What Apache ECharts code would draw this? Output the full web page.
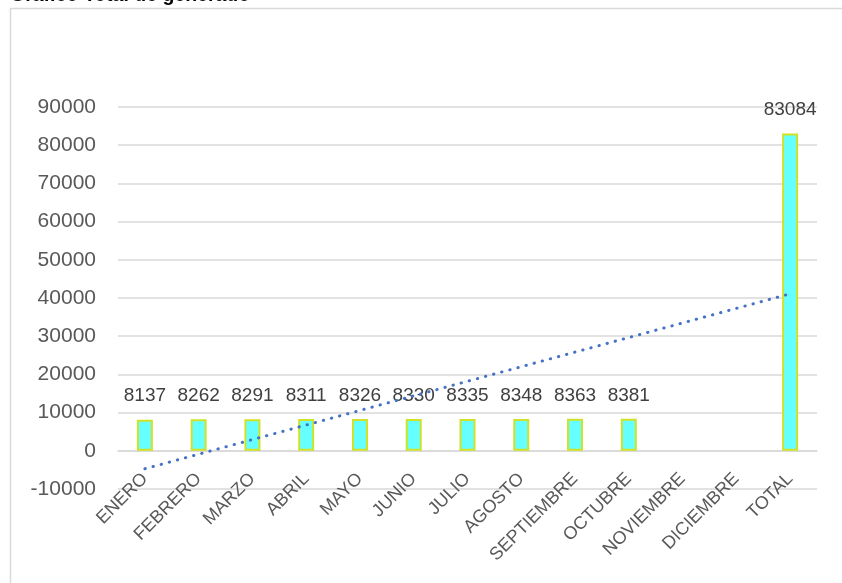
<!DOCTYPE html>
<html>
<head>
<meta charset="utf-8">
<title>Gráfico Total de generado</title>
<script src="https://cdn.jsdelivr.net/npm/echarts@6/dist/echarts.min.js"></script>
<style>
    html, body { margin: 0; padding: 0; background: #ffffff; }
    #chart { width: 842px; height: 583px; }
</style>
</head>
<body>
<div id="chart"></div>
<script>
// data
const months = ['ENERO', 'FEBRERO', 'MARZO', 'ABRIL', 'MAYO', 'JUNIO', 'JULIO',
    'AGOSTO', 'SEPTIEMBRE', 'OCTUBRE', 'NOVIEMBRE', 'DICIEMBRE', 'TOTAL']
const generated = [8137, 8262, 8291, 8311, 8326, 8330, 8335, 8348, 8363, 8381, null, null, 83084]
// dotted linear trend line, only its two ends are read
const trend = [-4700, null, null, null, null, null, null, null, null, null, null, null, 41100]
const yMin = -10000
const yMax = 90000
const yStep = 10000

const textFont = 'Liberation Sans'
const chart = echarts.init(document.getElementById('chart'))

const option = {
    animation: false,
    textStyle: { fontFamily: textFont },
    graphic: [
        {
            type: 'rect',
            shape: { x: 10.5, y: 8.5, width: 840, height: 590 },
            style: { fill: 'none', stroke: '#d9d9d9', lineWidth: 1.5 },
            silent: true
        },
        {
            // the title sits above the chart frame and is mostly cut off
            type: 'text',
            x: 10,
            y: -4,
            style: {
                text: 'Gráfico Total de generado',
                font: 'bold 19.5px "Liberation Sans"',
                fill: '#000000',
                verticalAlign: 'middle'
            },
            silent: true
        }
    ],
    grid: {
        top: 107,
        left: 118,
        right: 25,
        bottom: 94,
        containLabel: false,
        outerBoundsMode: 'none'
    },
    xAxis: {
        type: 'category',
        data: months,
        axisLine: {
            onZero: true,
            lineStyle: { color: '#d9d9d9', width: 1.5 }
        },
        axisTick: { show: false },
        axisLabel: {
            interval: 0,
            rotate: 45,
            margin: -13,
            fontSize: 18,
            color: '#595959'
        }
    },
    yAxis: {
        type: 'value',
        min: yMin,
        max: yMax,
        interval: yStep,
        axisLine: { show: false },
        axisTick: { show: false },
        splitLine: {
            lineStyle: { color: '#d9d9d9', width: 1.5 }
        },
        axisLabel: {
            margin: 22,
            fontSize: 21,
            color: '#595959',
            formatter: v => String(v)
        }
    },
    series: [
        {
            name: 'Generado',
            type: 'bar',
            data: generated,
            barWidth: 16,
            itemStyle: {
                color: '#66ffff',
                borderColor: '#d0e225',
                borderWidth: 2
            },
            label: {
                show: true,
                position: 'top',
                distance: 14,
                fontSize: 19,
                color: '#404040'
            },
            z: 2
        },
        {
            name: 'Tendencia',
            type: 'line',
            data: trend,
            connectNulls: true,
            symbol: 'none',
            lineStyle: {
                color: '#4472c4',
                width: 3,
                type: [0.4, 8],
                cap: 'round'
            },
            z: 5
        }
    ]
}

chart.setOption(option)
</script>
</body>
</html>
